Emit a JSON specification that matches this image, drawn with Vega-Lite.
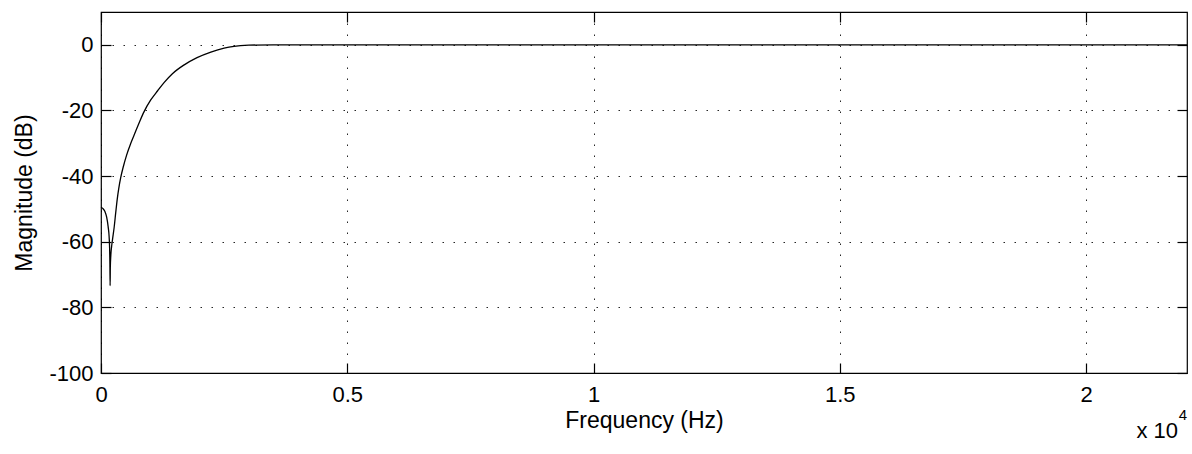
{
  "$schema": "https://vega.github.io/schema/vega-lite/v6.json",
  "autosize": "none",
  "width": 1086,
  "height": 361,
  "padding": {"left": 101, "top": 12, "right": 5, "bottom": 81},
  "background": "white",
  "config": {
    "view": {"stroke": "black", "strokeWidth": 1.2},
    "font": "Liberation Sans",
    "axis": {
      "labelFont": "Liberation Sans",
      "titleFont": "Liberation Sans",
      "labelFontSize": 22,
      "titleFontSize": 23,
      "titleFontWeight": "normal",
      "labelColor": "black",
      "titleColor": "black",
      "tickColor": "black",
      "tickWidth": 1.2,
      "tickSize": -10,
      "domain": false,
      "labelFlush": false,
      "labelOverlap": false
    }
  },
  "data": {
    "values": [
      {"f": 0, "db": -49.5},
      {"f": 40, "db": -49.9},
      {"f": 80, "db": -50.8},
      {"f": 115, "db": -52.5},
      {"f": 145, "db": -55.4},
      {"f": 165, "db": -58.5},
      {"f": 175, "db": -62},
      {"f": 181, "db": -67},
      {"f": 185, "db": -73.4},
      {"f": 189, "db": -68},
      {"f": 200, "db": -64},
      {"f": 215, "db": -61.5},
      {"f": 232, "db": -59.5},
      {"f": 268, "db": -55.5},
      {"f": 300, "db": -51},
      {"f": 330, "db": -47},
      {"f": 360, "db": -43.8},
      {"f": 400, "db": -40.5},
      {"f": 450, "db": -37.3},
      {"f": 520, "db": -33.6},
      {"f": 605, "db": -30},
      {"f": 700, "db": -26.5},
      {"f": 790, "db": -23.2},
      {"f": 870, "db": -20.5},
      {"f": 1010, "db": -16.8},
      {"f": 1150, "db": -14},
      {"f": 1280, "db": -11.5},
      {"f": 1450, "db": -8.8},
      {"f": 1690, "db": -6.1},
      {"f": 1950, "db": -3.9},
      {"f": 2230, "db": -2.2},
      {"f": 2500, "db": -1.0},
      {"f": 2700, "db": -0.45},
      {"f": 3000, "db": -0.12},
      {"f": 3500, "db": 0},
      {"f": 5000, "db": 0},
      {"f": 10000, "db": 0},
      {"f": 15000, "db": 0},
      {"f": 20000, "db": 0},
      {"f": 22050, "db": 0}
    ]
  },
  "layer": [
    {
      "mark": {"type": "line", "color": "black", "strokeWidth": 1.3, "interpolate": "monotone"},
      "encoding": {
        "x": {
          "field": "f", "type": "quantitative",
          "scale": {"domain": [0, 22050], "nice": false, "zero": false},
          "axis": {
            "orient": "bottom",
            "values": [0, 5000, 10000, 15000, 20000],
            "labelExpr": "'' + (datum.value / 10000)",
            "labelPadding": 21,
            "title": "Frequency (Hz)",
            "titlePadding": 4,
            "grid": true,
            "gridColor": "black",
            "gridOpacity": 0.85,
            "gridWidth": 1,
            "gridDash": [1.5, 9.5]
          }
        },
        "y": {
          "field": "db", "type": "quantitative",
          "scale": {"domain": [-100, 10], "nice": false, "zero": false},
          "axis": {
            "orient": "left",
            "values": [-100, -80, -60, -40, -20, 0],
            "labelExpr": "'' + datum.value",
            "labelPadding": 18,
            "title": "Magnitude (dB)",
            "titlePadding": 12,
            "grid": true,
            "gridColor": "black",
            "gridOpacity": 0.85,
            "gridWidth": 1,
            "gridDash": [1.5, 9.5]
          }
        }
      }
    },
    {
      "mark": {"type": "line", "strokeOpacity": 0},
      "encoding": {
        "x": {
          "field": "f", "type": "quantitative",
          "axis": {"orient": "top", "values": [0, 5000, 10000, 15000, 20000], "labels": false, "title": null, "grid": false}
        },
        "y": {
          "field": "db", "type": "quantitative",
          "axis": {"orient": "right", "values": [-100, -80, -60, -40, -20, 0], "labels": false, "title": null, "grid": false}
        }
      }
    },
    {
      "data": {"values": [{"f": 22050, "db": -100, "label": "x 10"}]},
      "mark": {"type": "text", "align": "right", "baseline": "alphabetic", "fontSize": 22, "fontWeight": "normal", "font": "Liberation Sans", "color": "black", "dx": -9, "dy": 65},
      "encoding": {
        "x": {"field": "f", "type": "quantitative", "axis": null},
        "y": {"field": "db", "type": "quantitative", "axis": null},
        "text": {"field": "label"}
      }
    },
    {
      "data": {"values": [{"f": 22050, "db": -100, "label": "4"}]},
      "mark": {"type": "text", "align": "right", "baseline": "alphabetic", "fontSize": 15, "fontWeight": "normal", "font": "Liberation Sans", "color": "black", "dx": 0, "dy": 47},
      "encoding": {
        "x": {"field": "f", "type": "quantitative", "axis": null},
        "y": {"field": "db", "type": "quantitative", "axis": null},
        "text": {"field": "label"}
      }
    }
  ],
  "resolve": {"axis": {"x": "independent", "y": "independent"}}
}
